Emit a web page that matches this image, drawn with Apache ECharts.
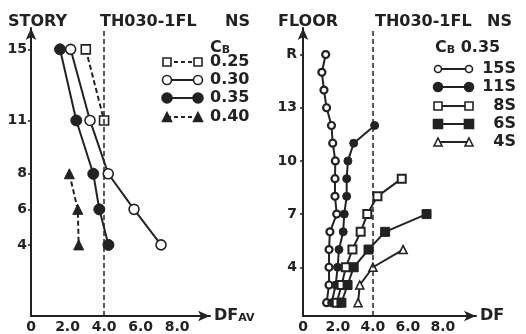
<!DOCTYPE html>
<html>
<head>
<meta charset="utf-8">
<script src="https://cdn.jsdelivr.net/npm/echarts@6/dist/echarts.min.js"></script>
<style>
  html, body { margin: 0; padding: 0; background: #fff; }
  #chart { width: 526px; height: 334px; }
</style>
</head>
<body>
<div id="chart"></div>
<script>
// left panel: DFav per story, one line per Cb
const storyTicks = [4, 6, 8, 11, 15]
const cbNames = ['0.25', '0.30', '0.35', '0.40']
const cb025Story = [15, 11]
const cb025Df = [3.0, 4.0]
const cb030Story = [15, 11, 8, 6, 4]
const cb030Df = [2.17, 3.23, 4.23, 5.64, 7.12]
const cb035Story = [15, 11, 8, 6, 4]
const cb035Df = [1.59, 2.48, 3.41, 3.74, 4.24]
const cb040Story = [8, 6, 4]
const cb040Df = [2.1, 2.56, 2.61]

// right panel: DF per floor, one line per building height (Cb 0.35)
const floorTicks = [4, 7, 10, 13, 16]
const buildNames = ['15S', '11S', '8S', '6S', '4S']
const floors15 = [16, 15, 14, 13, 12, 11, 10, 9, 8, 7, 6, 5, 4, 3, 2]
const df15 = [1.3, 1.08, 1.2, 1.35, 1.63, 1.7, 1.85, 1.83, 1.83, 1.93, 1.54, 1.49, 1.49, 1.49, 1.35]
const floors11 = [12, 11, 10, 9, 8, 7, 6, 5, 4, 3, 2]
const df11 = [4.1, 2.9, 2.57, 2.5, 2.5, 2.36, 2.3, 2.06, 1.98, 1.87, 1.64]
const floors8 = [9, 8, 7, 6, 5, 4, 3, 2]
const df8 = [5.65, 4.26, 3.68, 3.3, 2.83, 2.45, 2.21, 1.93]
const floors6 = [7, 6, 5, 4, 3, 2]
const df6 = [7.07, 4.7, 3.75, 2.9, 2.55, 2.2]
const floors4 = [5, 4, 3, 2]
const df4 = [5.73, 4.0, 3.25, 3.15]

const dfTicks = [0, 2, 4, 6, 8]

const INK = '#222'
const FONT = 'DejaVu Sans'

const pairs = (xs, ys) => xs.map((x, i) => [x, ys[i]])

const line = (name, data, axis, symbol, size, filled, dashed, border) => ({
  name,
  type: 'line',
  xAxisIndex: axis,
  yAxisIndex: axis,
  data,
  symbol,
  symbolSize: size,
  itemStyle: filled
    ? { color: INK, borderColor: INK, borderWidth: 1 }
    : { color: '#fff', borderColor: INK, borderWidth: border || 1.6 },
  lineStyle: { color: INK, width: 2, type: dashed ? [5, 3] : 'solid' },
  z: 3
})

const xAxisBase = (name) => ({
  type: 'value',
  min: 0,
  splitLine: { show: false },
  axisLine: { lineStyle: { color: INK, width: 2 }, symbol: ['none', 'arrow'], symbolSize: [8, 12] },
  axisTick: { show: false, customValues: dfTicks },
  axisLabel: {
    customValues: dfTicks,
    color: INK, fontFamily: FONT, fontWeight: 'bold', fontSize: 14, margin: 4,
    formatter: v => v === 0 ? '0' : v.toFixed(1)
  },
  name,
  nameLocation: 'end',
  nameGap: 4,
  nameTextStyle: {
    rich: {
      a: { fontFamily: FONT, fontWeight: 'bold', fontSize: 16, color: INK },
      b: { fontFamily: FONT, fontWeight: 'bold', fontSize: 11, color: INK, padding: [4, 0, 0, 0] }
    }
  }
})

const yAxisBase = (ticks, fmt, margin) => ({
  type: 'value',
  splitLine: { show: false },
  axisLine: { lineStyle: { color: INK, width: 2 }, symbol: ['none', 'arrow'], symbolSize: [8, 12] },
  axisTick: { show: true, customValues: ticks, length: 3, lineStyle: { color: INK, width: 1.5 } },
  axisLabel: {
    customValues: ticks,
    color: INK, fontFamily: FONT, fontWeight: 'bold', fontSize: 14, margin,
    formatter: fmt
  }
})

// legend drawn as graphic: line with a symbol at each end, then the label
const legendSym = (shape, cx, cy, s, filled) => {
  const style = { fill: filled ? INK : '#fff', stroke: INK, lineWidth: 1.6 }
  if (shape === 'circle') return { type: 'circle', shape: { cx, cy, r: s / 2 }, style }
  if (shape === 'rect') return { type: 'rect', shape: { x: cx - s / 2, y: cy - s / 2, width: s, height: s }, style }
  return { type: 'polygon', shape: { points: [[cx, cy - s / 2], [cx + s / 2, cy + s / 2], [cx - s / 2, cy + s / 2]] }, style }
}

const legendRow = (x1, x2, y, shape, size, filled, dashed, label, tx, align) => [
  { type: 'line', shape: { x1, y1: y, x2, y2: y }, style: { stroke: INK, lineWidth: 2, lineDash: dashed ? [4, 3] : null } },
  legendSym(shape, x1, y, size, filled),
  legendSym(shape, x2, y, size, filled),
  { type: 'text', x: tx, y, style: { text: label, fill: INK, font: `bold 16px "${FONT}"`, align, verticalAlign: 'middle' } }
]

const txt = (x, y, text, size) => ({
  type: 'text', x, y,
  style: { text, fill: INK, font: `bold ${size || 16}px "${FONT}"`, verticalAlign: 'middle' }
})

const leftLegend = [
  ['rect', 8, false, true],
  ['circle', 9, false, false],
  ['circle', 10, true, false],
  ['triangle', 9, true, true]
]
const leftRowsY = [62, 80, 98, 117]
const rightLegend = [
  ['circle', 7, false],
  ['circle', 9, true],
  ['rect', 8, false],
  ['rect', 9, true],
  ['triangle', 8, false]
]
const rightRowsY = [69, 87, 106, 124, 142]

const graphic = [
  txt(8, 22, 'STORY'),
  txt(100, 22, 'TH030-1FL'),
  txt(225, 22, 'NS'),
  txt(278, 22, 'FLOOR'),
  txt(375, 22, 'TH030-1FL'),
  txt(487, 22, 'NS'),
  {
    type: 'text', x: 210, y: 48,
    style: {
      text: '{c|C}{b|B}', verticalAlign: 'middle',
      rich: {
        c: { font: `bold 16px "${FONT}"`, fill: INK },
        b: { font: `bold 11px "${FONT}"`, fill: INK, padding: [4, 0, 0, 0] }
      }
    }
  },
  {
    type: 'text', x: 435, y: 48,
    style: {
      text: '{c|C}{b|B}{c| 0.35}', verticalAlign: 'middle',
      rich: {
        c: { font: `bold 16px "${FONT}"`, fill: INK },
        b: { font: `bold 11px "${FONT}"`, fill: INK, padding: [4, 0, 0, 0] }
      }
    }
  }
]
leftLegend.forEach((d, i) => {
  graphic.push(...legendRow(167, 198, leftRowsY[i], d[0], d[1], d[2], d[3], cbNames[i], 210, 'left'))
})
rightLegend.forEach((d, i) => {
  graphic.push(...legendRow(438, 469, rightRowsY[i], d[0], d[1], d[2], false, buildNames[i], 516, 'right'))
})

const dashedAt4 = {
  silent: true,
  symbol: 'none',
  label: { show: false },
  lineStyle: { color: INK, width: 1.5, type: [5, 3] },
  data: [{ xAxis: 4 }]
}

const chart = echarts.init(document.getElementById('chart'))

const options = {
  backgroundColor: '#fff',
  animation: false,
  grid: [
    { left: 31, right: 316, top: 28, bottom: 16 },
    { left: 303, right: 50, top: 28, bottom: 17 }
  ],
  xAxis: [
    Object.assign(xAxisBase('{a|DF}{b|AV}'), { gridIndex: 0, max: 9.8 }),
    Object.assign(xAxisBase('{a|DF}'), { gridIndex: 1, max: 9.9 })
  ],
  yAxis: [
    Object.assign(yAxisBase(storyTicks, v => String(v), 4), { gridIndex: 0, min: 0, max: 16.2 }),
    Object.assign(yAxisBase(floorTicks, v => v === 16 ? 'R' : String(v), 6), { gridIndex: 1, min: 1.25, max: 17.5 })
  ],
  series: [
    Object.assign(line(cbNames[0], pairs(cb025Df, cb025Story), 0, 'rect', 9, false, true), { markLine: dashedAt4 }),
    line(cbNames[1], pairs(cb030Df, cb030Story), 0, 'circle', 10, false, false),
    line(cbNames[2], pairs(cb035Df, cb035Story), 0, 'circle', 11, true, false),
    line(cbNames[3], pairs(cb040Df, cb040Story), 0, 'triangle', 10, true, true),
    Object.assign(line(buildNames[0], pairs(df15, floors15), 1, 'circle', 7, false, false, 2.2), { markLine: dashedAt4 }),
    line(buildNames[1], pairs(df11, floors11), 1, 'circle', 8, true, false),
    line(buildNames[2], pairs(df8, floors8), 1, 'rect', 8, false, false, 2),
    line(buildNames[3], pairs(df6, floors6), 1, 'rect', 9, true, false),
    line(buildNames[4], pairs(df4, floors4), 1, 'triangle', 8, false, false)
  ],
  graphic
}
chart.setOption(options)
</script>
</body>
</html>
